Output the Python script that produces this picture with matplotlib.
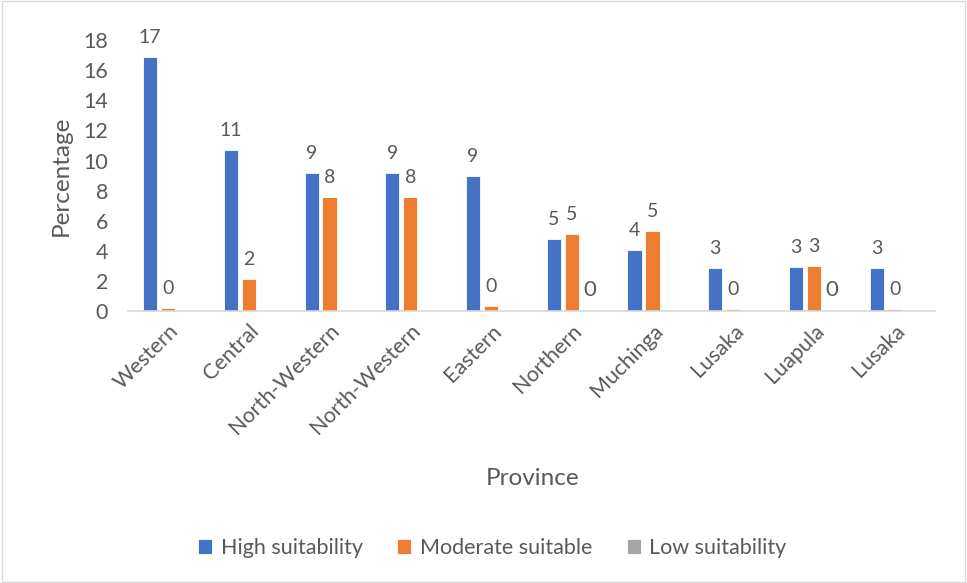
from matplotlib import pyplot as plt
from matplotlib.patches import Rectangle
import numpy as np

# province suitability (percentage of area)
provinces = ['Western', 'Central', 'North-Western', 'North-Western', 'Eastern',
             'Northern', 'Muchinga', 'Lusaka', 'Luapula', 'Lusaka']
high = [16.9, 10.7, 9.15, 9.15, 8.95, 4.8, 4.05, 2.85, 2.9, 2.85]
moderate = [0.2, 2.1, 7.6, 7.6, 0.35, 5.1, 5.3, 0.13, 3.0, 0.13]
low = [None, None, None, None, None, 0.0, None, None, 0.0, None]

series_names = ['High suitability', 'Moderate suitable', 'Low suitability']
colors = ['#4472C4', '#ED7D31', '#A5A5A5']
txt = '#595959'

plt.rcParams['font.family'] = ['Lato', 'DejaVu Sans']

fig = plt.figure(figsize=(9.67, 5.83), dpi=100)
ax = fig.add_axes([0.132, 0.4666, 0.835, 0.4644])

x = np.arange(len(provinces))
w = 0.175
step = 0.222

for i, (vals, col, name) in enumerate(zip([high, moderate, low], colors, series_names)):
    xs = x + (i - 1) * step
    hv = [v if v is not None else 0 for v in vals]
    ax.bar(xs, hv, width=w, color=col, label=name, edgecolor='white', linewidth=0.6)
    for xi, v in zip(xs, vals):
        if v is None:
            continue
        fs = 16 if i == 2 else 14
        ax.annotate(f'{v:.0f}', (xi, v), xytext=(0, 8), textcoords='offset points',
                    ha='center', va='bottom', fontsize=fs, color=txt)

ax.set_xlim(-0.5, len(provinces) - 0.5)
ax.set_ylim(0, 18)
ax.set_yticks(range(0, 19, 2))
ax.set_xticks(x)
ax.set_xticklabels(provinces, rotation=45, ha='right', rotation_mode='anchor',
                   fontsize=15.5, color=txt)
ax.tick_params(axis='y', labelsize=15.5, labelcolor=txt, length=0, pad=14)
ax.tick_params(axis='x', length=0, pad=7)
for s in ['top', 'right', 'left']:
    ax.spines[s].set_visible(False)
ax.spines['bottom'].set_color('#D9D9D9')
ax.spines['bottom'].set_linewidth(1.2)

ax.set_ylabel('Percentage', fontsize=17.5, color=txt, labelpad=8)
fig.text(0.551, 0.18, 'Province', fontsize=17.5, color=txt, ha='center', va='center')

handles, labels = ax.get_legend_handles_labels()
fig.legend(handles, labels, loc='center', bbox_to_anchor=(0.509, 0.06), ncol=3,
           frameon=False, fontsize=15.5, handlelength=0.65, handleheight=0.65,
           columnspacing=1.6, handletextpad=0.4, labelcolor=txt)

fig.patches.append(Rectangle((0.002, 0.002), 0.996, 0.996, transform=fig.transFigure,
                             fill=False, edgecolor='#D9D9D9', linewidth=1))

fig.savefig('out.png', dpi=100)
